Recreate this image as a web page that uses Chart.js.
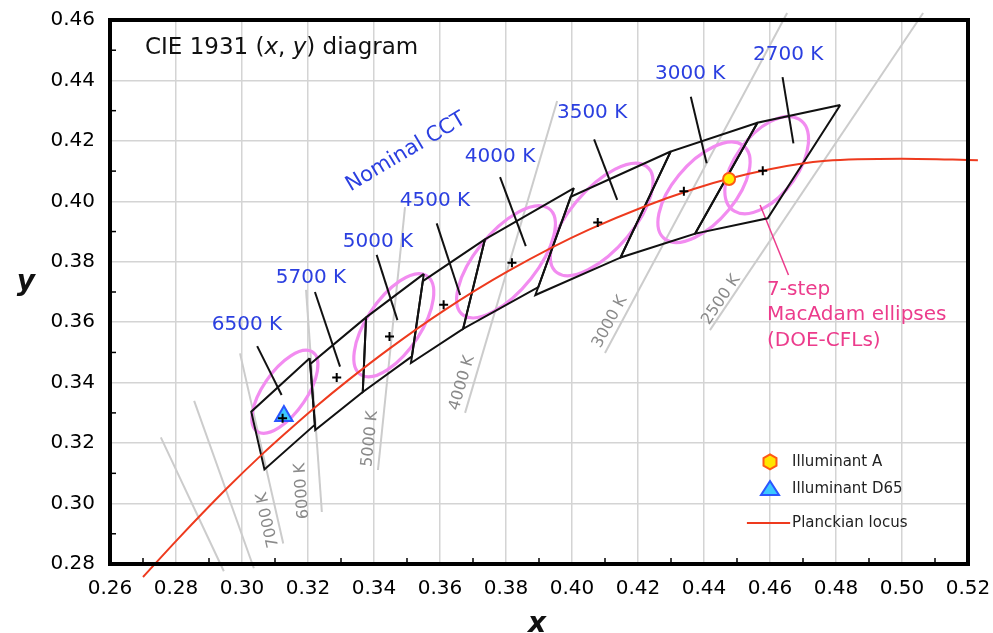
<!DOCTYPE html>
<html><head><meta charset="utf-8">
<script src="https://cdn.jsdelivr.net/npm/chart.js@4.4.1/dist/chart.umd.min.js"></script>
<style>html,body{margin:0;padding:0;background:#fff;}</style>
</head><body>
<canvas id="c" width="993" height="633"></canvas>
<script>
// ---------- axes ----------
const xMin = 0.26, xMax = 0.52, yMin = 0.28, yMax = 0.46, tickStep = 0.02, minorStep = 0.01;

// ---------- Planckian locus ----------
const locusX = [0.2700, 0.2807, 0.2952, 0.3064, 0.3135, 0.3221, 0.3324, 0.3451, 0.3608, 0.3805, 0.4053, 0.4369, 0.4599, 0.4770, 0.5000, 0.5230];
const locusY = [0.2757, 0.2884, 0.3048, 0.3166, 0.3236, 0.3318, 0.3410, 0.3516, 0.3636, 0.3768, 0.3907, 0.4041, 0.4106, 0.4134, 0.4141, 0.4136];

// ---------- illuminants ----------
const illumA = [0.4476, 0.4074];
const illumD65 = [0.3127, 0.3290];

// ---------- ANSI nominal CCT quadrangles ----------
const nominalCCT = ['6500 K', '5700 K', '5000 K', '4500 K', '4000 K', '3500 K', '3000 K', '2700 K'];
const centerX = [0.3123, 0.3287, 0.3447, 0.3611, 0.3818, 0.4078, 0.4339, 0.4578];
const centerY = [0.3282, 0.3417, 0.3553, 0.3658, 0.3797, 0.3930, 0.4033, 0.4101];
const quad6500 = [[0.3205, 0.3481], [0.3028, 0.3304], [0.3068, 0.3113], [0.3221, 0.3261]];
const quad5700 = [[0.3376, 0.3616], [0.3207, 0.3462], [0.3222, 0.3243], [0.3366, 0.3369]];
const quad5000 = [[0.3551, 0.3760], [0.3376, 0.3616], [0.3366, 0.3369], [0.3515, 0.3487]];
const quad4500 = [[0.3736, 0.3874], [0.3548, 0.3736], [0.3512, 0.3465], [0.3670, 0.3578]];
const quad4000 = [[0.4006, 0.4044], [0.3736, 0.3874], [0.3670, 0.3578], [0.3898, 0.3716]];
const quad3500 = [[0.4299, 0.4165], [0.3996, 0.4015], [0.3889, 0.3690], [0.4147, 0.3814]];
const quad3000 = [[0.4562, 0.4260], [0.4299, 0.4165], [0.4147, 0.3814], [0.4373, 0.3893]];
const quad2700 = [[0.4813, 0.4319], [0.4562, 0.4260], [0.4373, 0.3893], [0.4593, 0.3944]];
const quads = [quad6500, quad5700, quad5000, quad4500, quad4000, quad3500, quad3000, quad2700];

// label positions and pointer lines for nominal CCT
const labelX = [0.3015, 0.3209, 0.3412, 0.3585, 0.3782, 0.4061, 0.4358, 0.4655];
const labelY = [0.3591, 0.3746, 0.3866, 0.4001, 0.4147, 0.4292, 0.4421, 0.4484];
const pointerFrom = [[0.3046, 0.3521], [0.3221, 0.3700], [0.3408, 0.3823], [0.3590, 0.3927], [0.3782, 0.4080], [0.4067, 0.4205], [0.4360, 0.4346], [0.4638, 0.4411]];
const pointerTo   = [[0.3120, 0.3359], [0.3297, 0.3453], [0.3471, 0.3607], [0.3661, 0.3690], [0.3860, 0.3852], [0.4137, 0.4005], [0.4408, 0.4126], [0.4671, 0.4192]];

// ---------- 7-step MacAdam ellipses (DOE-CFLs) ----------
const ellipseCCT = ['6500 K', '5000 K', '4100 K', '3500 K', '3000 K', '2700 K'];
const ellipseX = [0.313, 0.346, 0.380, 0.409, 0.440, 0.459];
const ellipseY = [0.337, 0.359, 0.380, 0.394, 0.403, 0.412];
const ellipseA = [0.0156, 0.0192, 0.0219, 0.0222, 0.0195, 0.0181];
const ellipseB = [0.0067, 0.0083, 0.0094, 0.0097, 0.0095, 0.0096];
const ellipseTheta = [58.2, 59.4, 54.0, 52.6, 53.1, 57.3];
const ellipseNote = ['7-step', 'MacAdam ellipses', '(DOE-CFLs)'];
const ellipseNoteLine = [[0.4570, 0.3988], [0.4656, 0.3756]];

// ---------- isotemperature lines ----------
const isoName  = ['', '', '7000 K', '6000 K', '5000 K', '4000 K', '3000 K', '2500 K'];
const isoStart = [[0.2754, 0.3219], [0.2855, 0.3340], [0.2994, 0.3497], [0.3194, 0.3707], [0.3494, 0.3981], [0.3955, 0.4332], [0.4652, 0.4623], [0.5064, 0.4623]];
const isoEnd   = [[0.2945, 0.2776], [0.3036, 0.2786], [0.3125, 0.2868], [0.3242, 0.2972], [0.3412, 0.3111], [0.3676, 0.3300], [0.4100, 0.3498], [0.4418, 0.3574]];
const isoLabelX = [null, null, 0.3079, 0.3182, 0.3388, 0.3667, 0.4115, 0.4452];
const isoLabelY = [null, null, 0.2946, 0.3042, 0.3214, 0.3399, 0.3601, 0.3674];

// ---------- legend ----------
const legendNames = ['Illuminant A', 'Illuminant D65', 'Planckian locus'];

// ---------- colours ----------
const C_LOCUS = '#ee3a1e', C_BLUE = '#2b3fe0', C_PINK = '#ec3c8c', C_ELL = '#f28cf0', C_ISO = '#cccccc';

Chart.defaults.font.family = "'DejaVu Sans', sans-serif";

const pts = arr => arr.map(p => ({x: p[0], y: p[1]}));
const datasets = [];
datasets.push({label: 'ANSI centres', data: centerX.map((x, i) => ({x, y: centerY[i]})), pointStyle: 'cross', pointRadius: 4.5, borderColor: '#000', borderWidth: 2, showLine: false});
datasets.push({label: legendNames[0], data: [{x: illumA[0], y: illumA[1]}], pointStyle: 'circle', pointRadius: 6, backgroundColor: '#ffee00', borderColor: '#ff5a14', borderWidth: 2});
datasets.push({label: legendNames[1], data: [{x: illumD65[0], y: illumD65[1]}], pointStyle: 'triangle', pointRadius: 10, backgroundColor: '#3cc8ff', borderColor: '#2a55ff', borderWidth: 2});
datasets.push({label: legendNames[2], data: locusX.map((x, i) => ({x, y: locusY[i]})), showLine: true, pointRadius: 0, borderColor: C_LOCUS, borderWidth: 2, cubicInterpolationMode: 'monotone', clip: false});
pointerFrom.forEach((p, i) => datasets.push({label: 'ptr ' + nominalCCT[i], data: pts([p, pointerTo[i]]), showLine: true, pointRadius: 0, borderColor: '#111', borderWidth: 2}));
quads.forEach((q, i) => datasets.push({label: 'quad ' + nominalCCT[i], data: pts(q.concat([q[0]])), showLine: true, pointRadius: 0, borderColor: '#111', borderWidth: 2}));
datasets.push({label: 'note line', data: pts(ellipseNoteLine), showLine: true, pointRadius: 0, borderColor: C_PINK, borderWidth: 1.5});
isoStart.forEach((p, i) => datasets.push({label: 'iso ' + i, data: pts([p, isoEnd[i]]), showLine: true, pointRadius: 0, borderColor: C_ISO, borderWidth: 2, clip: false, ellipsesAfter: i === 0}));

function drawEllipses(chart) {
  const {ctx, scales: {x, y}} = chart;
  const sx = x.getPixelForValue(1) - x.getPixelForValue(0);
  const sy = y.getPixelForValue(0) - y.getPixelForValue(1);
  ctx.save();
  ctx.strokeStyle = C_ELL; ctx.lineWidth = 3.2;
  ellipseX.forEach((ex, i) => {
    ctx.save();
    ctx.beginPath();
    ctx.translate(x.getPixelForValue(ex), y.getPixelForValue(ellipseY[i]));
    ctx.scale(sx, -sy);
    ctx.rotate(ellipseTheta[i] * Math.PI / 180);
    ctx.ellipse(0, 0, ellipseA[i], ellipseB[i], 0, 0, Math.PI * 2);
    ctx.restore();
    ctx.stroke();
  });
  ctx.restore();
}

function txt(ctx, s, px, py, font, color, align, baseline, rot) {
  ctx.save(); ctx.translate(px, py); ctx.rotate(rot || 0);
  ctx.font = font; ctx.fillStyle = color; ctx.textAlign = align || 'left'; ctx.textBaseline = baseline || 'middle';
  ctx.fillText(s, 0, 0); ctx.restore();
}

const annot = {
  id: 'annot',
  afterDatasetDraw(chart, args) {
    if (chart.data.datasets[args.index].ellipsesAfter) drawEllipses(chart);
  },
  afterDraw(chart) {
    const {ctx, chartArea: a, scales: {x, y}} = chart;
    const X = v => x.getPixelForValue(v), Y = v => y.getPixelForValue(v);
    // frame
    ctx.save();
    ctx.strokeStyle = '#000'; ctx.lineWidth = 4;
    ctx.strokeRect(a.left, a.top, a.right - a.left, a.bottom - a.top);
    // minor ticks
    ctx.lineWidth = 1.5;
    for (let k = 1; k < Math.round((xMax - xMin) / minorStep); k += 2) {
      const px = X(xMin + k * minorStep);
      ctx.beginPath(); ctx.moveTo(px, a.bottom); ctx.lineTo(px, a.bottom - 6); ctx.stroke();
    }
    for (let k = 1; k < Math.round((yMax - yMin) / minorStep); k += 2) {
      const py = Y(yMin + k * minorStep);
      ctx.beginPath(); ctx.moveTo(a.left, py); ctx.lineTo(a.left + 6, py); ctx.stroke();
    }
    ctx.restore();

    // title with italic x, y
    const tf = '23px "DejaVu Sans"', tfi = 'italic 23px "DejaVu Sans"';
    let tx = X(0.2706); const ty = Y(0.4488);
    [['CIE 1931 (', tf], ['x', tfi], [', ', tf], ['y', tfi], [') diagram', tf]].forEach(([s, f]) => {
      ctx.font = f; txt(ctx, s, tx, ty, f, '#111', 'left', 'alphabetic'); tx += ctx.measureText(s).width;
    });

    // nominal CCT labels
    nominalCCT.forEach((s, i) => txt(ctx, s, X(labelX[i]), Y(labelY[i]), '20px "DejaVu Sans"', C_BLUE, 'center', 'middle'));
    txt(ctx, 'Nominal CCT', X(0.3497), Y(0.4163), '21px "DejaVu Sans"', C_BLUE, 'center', 'middle', -30.7 * Math.PI / 180);

    // isotherm labels
    isoName.forEach((s, i) => {
      if (!s) return;
      const ang = Math.atan2(Y(isoStart[i][1]) - Y(isoEnd[i][1]), X(isoStart[i][0]) - X(isoEnd[i][0]));
      txt(ctx, s, X(isoLabelX[i]), Y(isoLabelY[i]), '16px "DejaVu Sans"', '#8a8a8a', 'center', 'middle', ang);
    });

    // MacAdam note
    const ny = [0.3707, 0.3624, 0.3538];
    ellipseNote.forEach((s, i) => txt(ctx, s, X(0.4591), Y(ny[i]), '20px "DejaVu Sans"', C_PINK, 'left', 'middle'));

    // legend
    const lx = X(0.46);
    ctx.save();
    const hy = Y(0.3138);
    ctx.beginPath();
    for (let k = 0; k < 6; k++) {
      const t = (k * 60 - 90) * Math.PI / 180;
      const px = lx + 7.5 * Math.cos(t), py = hy + 7.5 * Math.sin(t);
      k ? ctx.lineTo(px, py) : ctx.moveTo(px, py);
    }
    ctx.closePath(); ctx.fillStyle = '#ffe600'; ctx.fill(); ctx.strokeStyle = '#ff5a14'; ctx.lineWidth = 2; ctx.stroke();
    const ty2 = Y(0.3048);
    ctx.beginPath(); ctx.moveTo(lx, ty2 - 8); ctx.lineTo(lx + 9, ty2 + 6); ctx.lineTo(lx - 9, ty2 + 6); ctx.closePath();
    ctx.fillStyle = '#3cc8ff'; ctx.fill(); ctx.strokeStyle = '#2a55ff'; ctx.stroke();
    const ly = Y(0.2936);
    ctx.beginPath(); ctx.moveTo(X(0.4530), ly); ctx.lineTo(X(0.4661), ly); ctx.strokeStyle = C_LOCUS; ctx.lineWidth = 2; ctx.stroke();
    ctx.restore();
    const lf = '15px "DejaVu Sans"';
    txt(ctx, legendNames[0], X(0.4667), hy, lf, '#222');
    txt(ctx, legendNames[1], X(0.4667), ty2, lf, '#222');
    txt(ctx, legendNames[2], X(0.4667), ly, lf, '#222');

    // axis titles
    txt(ctx, 'x', (a.left + a.right) / 2 - 2, 632, 'bold italic 28px "DejaVu Sans"', '#111', 'center', 'alphabetic');
    txt(ctx, 'y', 26, 290, 'bold italic 28px "DejaVu Sans"', '#111', 'center', 'alphabetic');
  }
};

new Chart(document.getElementById('c'), {
  type: 'scatter',
  data: {datasets},
  options: {
    responsive: false, animation: false, events: [],
    layout: {padding: {left: 0, right: 25, top: 20, bottom: 0}},
    plugins: {legend: {display: false}, tooltip: {enabled: false}},
    scales: {
      x: {type: 'linear', min: xMin, max: xMax,
          ticks: {stepSize: tickStep, padding: 13, color: '#000', font: {size: 20}, maxRotation: 0, autoSkip: false, callback: v => v.toFixed(2)},
          grid: {color: '#d4d4d4', lineWidth: 1.5, drawTicks: false}, border: {display: false},
          afterFit(s) { s.height = 69; s.paddingLeft = 0; s.paddingRight = 0; }},
      y: {type: 'linear', min: yMin, max: yMax,
          ticks: {stepSize: tickStep, padding: 15, color: '#000', font: {size: 20}, autoSkip: false, callback: v => v.toFixed(2)},
          grid: {color: '#d4d4d4', lineWidth: 1.5, drawTicks: false}, border: {display: false},
          afterFit(s) { s.width = 110; s.paddingTop = 0; s.paddingBottom = 0; }}
    }
  },
  plugins: [annot]
});
</script>
</body></html>
